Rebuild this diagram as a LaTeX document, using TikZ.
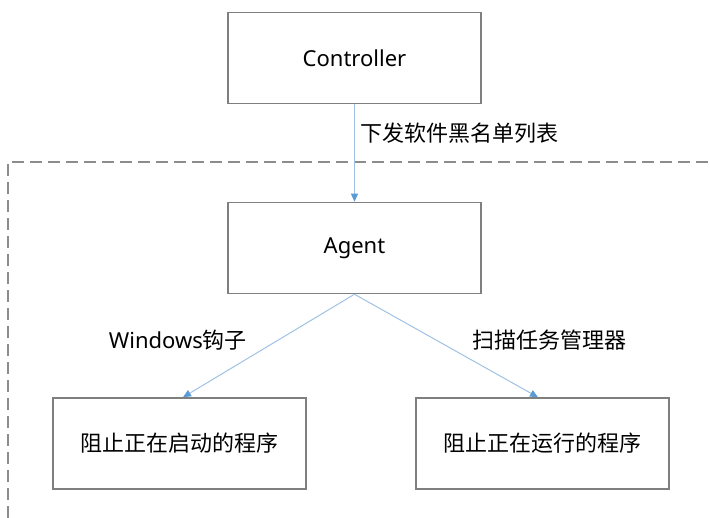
\documentclass[tikz,border=0pt]{standalone}
\usepackage{fontspec}
\setmainfont{Noto Sans}
\newfontfamily\cjk{Noto Sans CJK SC}
\usetikzlibrary{arrows.meta}
\definecolor{boxgray}{RGB}{127,127,127}
\definecolor{dashgray}{RGB}{140,140,140}
\definecolor{lineblue}{RGB}{160,194,226}
\definecolor{tipblue}{RGB}{91,155,213}

\begin{document}
\begin{tikzpicture}[x=1pt,y=-1pt]
\tikzset{box/.style={draw=boxgray,line width=1.5pt,minimum width=253pt,minimum height=91pt,inner sep=0pt,font=\fontsize{22}{26}\selectfont},
lbl/.style={inner sep=0pt,font=\fontsize{22}{26}\selectfont},
flow/.style={draw=lineblue,line width=1pt,-{Triangle[length=8pt,width=7pt,color=tipblue]}}}
\useasboundingbox (0,0) rectangle (710,518);
% scope of the agent
\draw[dashgray,line width=1.5pt,dash pattern=on 12pt off 6pt] (8,518) -- (8,162) -- (710,162);

\node[box] (ctrl) at (354.5,58) {Controller};
\node[box] (agent) at (354.5,248) {Agent};
\node[box] (start) at (179.5,443.5) {\cjk 阻止正在启动的程序};
\node[box] (run) at (542.5,443.5) {\cjk 阻止正在运行的程序};

\draw[flow] (ctrl) -- node[lbl,pos=0.3,anchor=west,xshift=5pt] {\cjk 下发软件黑名单列表} (agent);
\draw[flow] (agent.south) -- node[lbl,pos=0.45,anchor=east,xshift=-30pt] {Windows\cjk 钩子} ([xshift=3.5pt]start.north);
\draw[flow] (agent.south) -- node[lbl,pos=0.45,anchor=west,xshift=35pt] {\cjk 扫描任务管理器} ([xshift=-4.5pt]run.north);
\end{tikzpicture}
\end{document}
